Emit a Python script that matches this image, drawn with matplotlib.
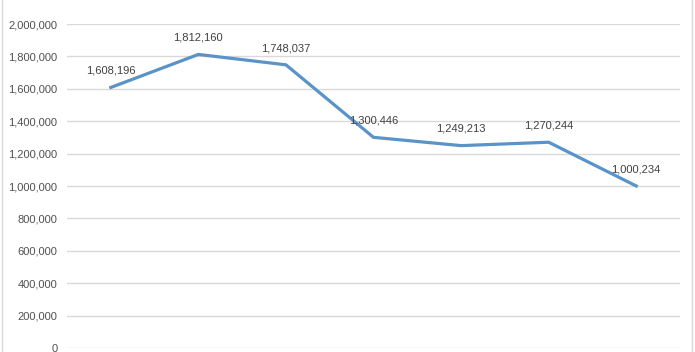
import matplotlib
matplotlib.use("Agg")
import matplotlib.pyplot as plt
from matplotlib.ticker import FuncFormatter
from matplotlib.patches import Rectangle

# Data
categories = ["1", "2", "3", "4", "5", "6", "7"]
values = [1608196, 1812160, 1748037, 1300446, 1249213, 1270244, 1000234]
y_ticks = [0, 200000, 400000, 600000, 800000, 1000000, 1200000, 1400000,
           1600000, 1800000, 2000000]

plt.rcParams['font.family'] = ['Liberation Sans', 'DejaVu Sans']

fig = plt.figure(figsize=(6.95, 3.52), dpi=100)
W, H = 695, 352
ax = fig.add_axes([67 / W, 1 - 348 / H, (680 - 67) / W, (348 - 24) / H])

x = list(range(len(categories)))
ax.plot(x, values, color='#5a93c8', linewidth=2.3, solid_joinstyle='miter')
for xi, v in zip(x, values):
    ax.annotate(f"{v:,}", (xi, v), xytext=(0, 12), textcoords='offset points',
                ha='center', va='center', fontsize=8, color='#404040')

ax.set_xlim(-0.5, len(categories) - 0.5)
ax.set_ylim(0, 2000000)
ax.set_yticks(y_ticks)
ax.yaxis.set_major_formatter(FuncFormatter(lambda v, p: f"{int(v):,}"))
ax.set_xticks([])
ax.tick_params(axis='y', length=0, pad=7, labelsize=8, labelcolor='#505050')
ax.grid(axis='y', color='#d9d9d9', linewidth=1)
ax.set_axisbelow(True)
for s in ax.spines.values():
    s.set_visible(False)

# outer chart border
fig.patches.append(Rectangle((2 / W, -0.01), (692 - 2) / W, 1.02,
                             transform=fig.transFigure, fill=False,
                             edgecolor='#d9d9d9', linewidth=1))

fig.savefig("out.png", dpi=100)
